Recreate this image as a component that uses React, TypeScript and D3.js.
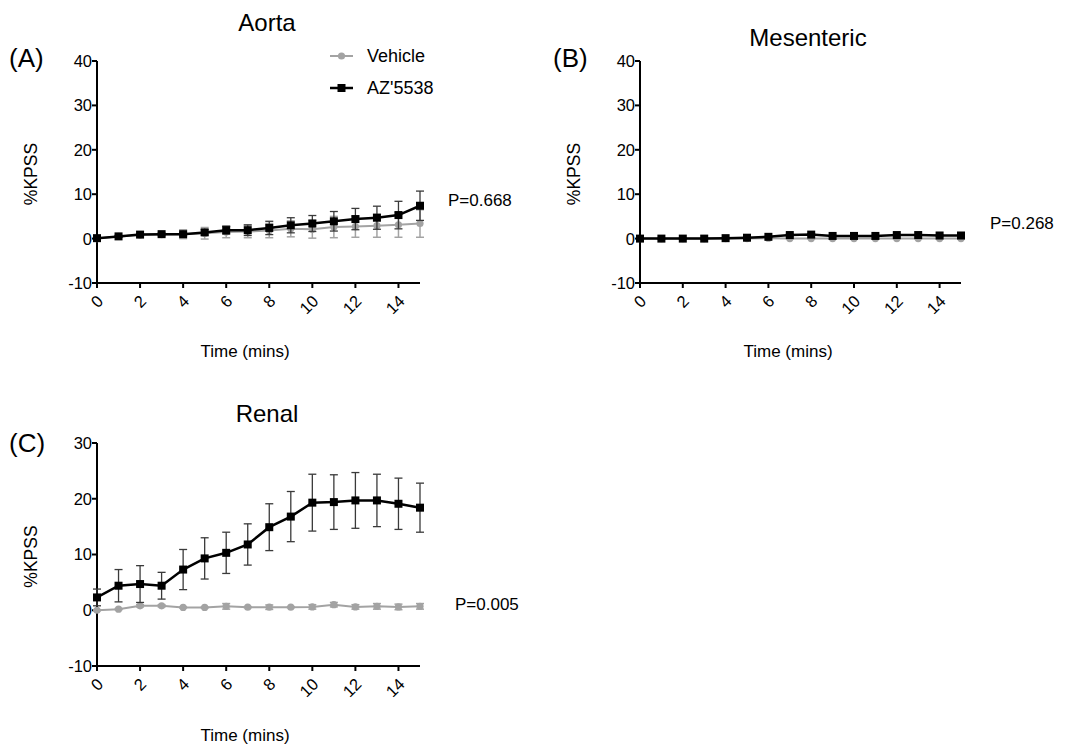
import React from "react";
import * as d3 from "d3";

const times = [0, 1, 2, 3, 4, 5, 6, 7, 8, 9, 10, 11, 12, 13, 14, 15];
const xTicks = [0, 2, 4, 6, 8, 10, 12, 14];

const aortaVehMean = [0, 0.5, 0.8, 0.9, 1.0, 1.2, 1.5, 1.6, 1.8, 2.2, 2.1, 2.6, 2.7, 2.9, 3.1, 3.4];
const aortaVehSem = [0.1, 0.2, 0.3, 0.3, 1.0, 1.3, 1.3, 1.4, 1.6, 1.8, 2.0, 2.4, 2.4, 2.6, 2.8, 3.1];
const aortaAzMean = [0.1, 0.5, 0.9, 1.0, 1.0, 1.4, 1.9, 1.9, 2.4, 3.0, 3.4, 3.9, 4.4, 4.7, 5.3, 7.4];
const aortaAzSem = [0.1, 0.2, 0.2, 0.2, 0.4, 0.6, 0.9, 1.2, 1.5, 1.7, 1.8, 2.2, 2.4, 2.6, 3.1, 3.3];

const mesVehMean = [0, 0, 0, 0, 0, 0, 0.1, 0, 0, 0, 0, 0, 0, 0, 0, 0];
const mesVehSem = [0.05, 0.05, 0.05, 0.05, 0.05, 0.05, 0.05, 0.05, 0.05, 0.05, 0.05, 0.05, 0.05, 0.05, 0.05, 0.05];
const mesAzMean = [0, 0, 0, 0, 0.1, 0.2, 0.4, 0.8, 0.9, 0.6, 0.6, 0.6, 0.8, 0.8, 0.7, 0.7];
const mesAzSem = [0.05, 0.05, 0.05, 0.05, 0.05, 0.1, 0.1, 0.2, 0.2, 0.1, 0.1, 0.1, 0.1, 0.1, 0.1, 0.1];

const renalVehMean = [0, 0.2, 0.8, 0.8, 0.5, 0.5, 0.7, 0.55, 0.55, 0.55, 0.6, 1.0, 0.6, 0.7, 0.6, 0.7];
const renalVehSem = [0.1, 0.1, 0.2, 0.2, 0.1, 0.1, 0.5, 0.1, 0.4, 0.1, 0.4, 0.4, 0.4, 0.5, 0.5, 0.5];
const renalAzMean = [2.3, 4.4, 4.7, 4.4, 7.3, 9.3, 10.3, 11.8, 14.9, 16.8, 19.3, 19.4, 19.7, 19.7, 19.1, 18.4];
const renalAzSem = [1.5, 2.9, 3.3, 2.4, 3.6, 3.7, 3.7, 3.7, 4.2, 4.5, 5.1, 4.9, 5.0, 4.7, 4.6, 4.4];

const yTicksA = [-10, 0, 10, 20, 30, 40];
const yTicksC = [-10, 0, 10, 20, 30];

const FONT = "'Liberation Sans', Arial, Helvetica, sans-serif";
const GRAY = "#a3a3a3";

type PanelProps = {
  x0: number; x1: number; y0: number; y1: number;
  yDomain: [number, number]; yTicks: number[];
  veh: number[]; vehSem: number[]; az: number[]; azSem: number[];
  title: string; titleX: number; titleY: number;
  label: string; labelX: number; labelY: number;
  yLabelX: number; xLabelY: number; xLabelX: number;
  pText: string; pX: number; pY: number;
};

function Panel(p: PanelProps) {
  const x = d3.scaleLinear().domain([0, 15]).range([p.x0, p.x1]);
  const y = d3.scaleLinear().domain(p.yDomain).range([p.y1, p.y0]);
  const line = d3.line<number>().x((_, i) => x(times[i])).y((d) => y(d));
  const axisY = y(p.yDomain[0]);
  const errs = (mean: number[], sem: number[], color: string, w: number) =>
    times.map((t, i) => {
      const cx = x(t);
      const top = y(mean[i] + sem[i]);
      const bot = y(mean[i] - sem[i]);
      return (
        <g key={i} stroke={color} strokeWidth={w}>
          <line x1={cx} x2={cx} y1={top} y2={bot} />
          <line x1={cx - 4} x2={cx + 4} y1={top} y2={top} />
          <line x1={cx - 4} x2={cx + 4} y1={bot} y2={bot} />
        </g>
      );
    });
  return (
    <g fontFamily={FONT}>
      <text x={p.titleX} y={p.titleY} fontSize={24} textAnchor="middle">{p.title}</text>
      <text x={p.labelX} y={p.labelY} fontSize={26}>{p.label}</text>
      {/* y axis */}
      <line x1={p.x0} x2={p.x0} y1={y(p.yDomain[1])} y2={axisY} stroke="#000" strokeWidth={2} />
      {p.yTicks.map((t) => (
        <g key={t}>
          <line x1={p.x0 - 5} x2={p.x0} y1={y(t)} y2={y(t)} stroke="#000" strokeWidth={2} />
          <text x={p.x0 - 5} y={y(t)} dy="0.36em" fontSize={16.5} textAnchor="end">{t}</text>
        </g>
      ))}
      {/* x axis */}
      <line x1={p.x0 - 1} x2={p.x1} y1={axisY} y2={axisY} stroke="#000" strokeWidth={2} />
      {xTicks.map((t) => (
        <g key={t}>
          <line x1={x(t)} x2={x(t)} y1={axisY} y2={axisY + 5} stroke="#000" strokeWidth={2} />
          <text transform={`translate(${x(t) + 3},${axisY + 15}) rotate(-45)`} fontSize={16.5} textAnchor="end" dy="0.36em">{t}</text>
        </g>
      ))}
      <text transform={`translate(${p.yLabelX},${(y(p.yDomain[1]) + axisY) / 2 + 2}) rotate(-90)`} fontSize={17.5} textAnchor="middle">%KPSS</text>
      <text x={p.xLabelX} y={p.xLabelY} fontSize={17} textAnchor="middle">Time (mins)</text>
      <text x={p.pX} y={p.pY} fontSize={17}>{p.pText}</text>
      {/* vehicle */}
      {errs(p.veh, p.vehSem, GRAY, 1.5)}
      <path d={line(p.veh) || ""} fill="none" stroke={GRAY} strokeWidth={2} />
      {times.map((t, i) => (
        <circle key={i} cx={x(t)} cy={y(p.veh[i])} r={3.6} fill={GRAY} />
      ))}
      {/* AZ'5538 */}
      {errs(p.az, p.azSem, "#3a3a3a", 1.3)}
      <path d={line(p.az) || ""} fill="none" stroke="#000" strokeWidth={2.5} />
      {times.map((t, i) => (
        <rect key={i} x={x(t) - 4} y={y(p.az[i]) - 4} width={8} height={8} fill="#000" />
      ))}
    </g>
  );
}

export default function App() {
  return (
    <svg width={1085} height={746} style={{ position: "absolute", left: 0, top: 0, background: "#fff" }}>
      <rect width={1085} height={746} fill="#fff" />
      <Panel x0={97} x1={420} y0={61} y1={283} yDomain={[-10, 40]} yTicks={yTicksA}
        veh={aortaVehMean} vehSem={aortaVehSem} az={aortaAzMean} azSem={aortaAzSem}
        title="Aorta" titleX={267} titleY={31} label="(A)" labelX={9} labelY={67}
        yLabelX={37} xLabelX={245} xLabelY={357} pText="P=0.668" pX={448} pY={206} />
      <Panel x0={640} x1={961} y0={61} y1={283} yDomain={[-10, 40]} yTicks={yTicksA}
        veh={mesVehMean} vehSem={mesVehSem} az={mesAzMean} azSem={mesAzSem}
        title="Mesenteric" titleX={808} titleY={46} label="(B)" labelX={553} labelY={67}
        yLabelX={580} xLabelX={788} xLabelY={357} pText="P=0.268" pX={990} pY={229} />
      <Panel x0={97} x1={420} y0={443} y1={666} yDomain={[-10, 30]} yTicks={yTicksC}
        veh={renalVehMean} vehSem={renalVehSem} az={renalAzMean} azSem={renalAzSem}
        title="Renal" titleX={267} titleY={422} label="(C)" labelX={9} labelY={452}
        yLabelX={37} xLabelX={245} xLabelY={741} pText="P=0.005" pX={455} pY={610} />
      {/* legend */}
      <g fontFamily={FONT} fontSize={18}>
        <line x1={330} x2={353} y1={56} y2={56} stroke={GRAY} strokeWidth={2} />
        <circle cx={341.5} cy={56} r={3.6} fill={GRAY} />
        <text x={367} y={62}>Vehicle</text>
        <line x1={330} x2={353} y1={88} y2={88} stroke="#000" strokeWidth={2.5} />
        <rect x={337.5} y={84} width={8} height={8} fill="#000" />
        <text x={367} y={94}>AZ'5538</text>
      </g>
    </svg>
  );
}
